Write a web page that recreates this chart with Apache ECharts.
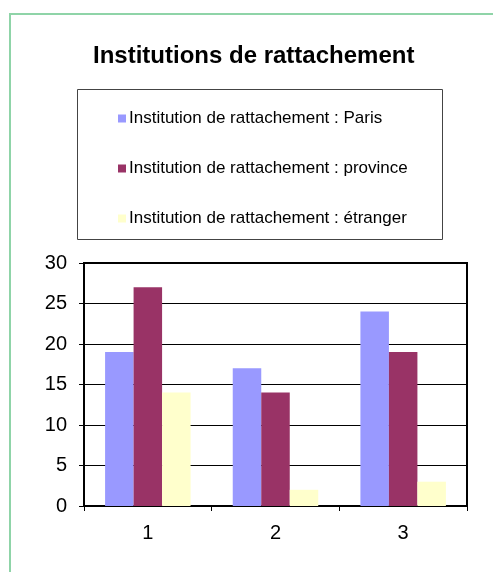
<!DOCTYPE html>
<html lang="fr">
<head>
    <meta charset="UTF-8">
    <title>Institutions de rattachement</title>
    <style>
        html, body { margin: 0; padding: 0; background: #fff; }
        .chart { width: 493px; height: 572px; }
    </style>
    <script src="https://cdn.jsdelivr.net/npm/echarts@6/dist/echarts.min.js"></script>
</head>
<body>
    <div class="chart"></div>
    <script>
        // données
        var categories = ['1', '2', '3'];
        var seriesNames = [
            'Institution de rattachement : Paris',
            'Institution de rattachement : province',
            'Institution de rattachement : étranger'
        ];
        var paris = [19, 17, 24];
        var province = [27, 14, 19];
        var etranger = [14, 2, 3];
        var colors = ['#9999FF', '#993366', '#FFFFCC'];

        var font = 'Liberation Sans, Arial, sans-serif';

        var option = {
            animation: false,
            color: colors,
            textStyle: { fontFamily: font },
            title: {
                text: 'Institutions de rattachement',
                left: 93,
                top: 44,
                padding: 0,
                textStyle: { fontSize: 24, fontWeight: 'bold', color: '#000', fontFamily: font }
            },
            // cadre vert + cadre de la légende
            graphic: [
                {
                    type: 'rect',
                    shape: { x: 10, y: 14, width: 600, height: 700 },
                    style: { fill: 'none', stroke: '#8FD4A8', lineWidth: 2 },
                    z: -1
                },
                {
                    type: 'rect',
                    shape: { x: 77.5, y: 89.5, width: 365, height: 150 },
                    style: { fill: 'none', stroke: '#444', lineWidth: 1 }
                }
            ],
            legend: {
                orient: 'vertical',
                left: 113,
                top: 105,
                itemWidth: 8,
                itemHeight: 8,
                itemGap: 33,
                icon: 'rect',
                textStyle: { fontSize: 17, color: '#000', fontFamily: font, padding: [0, 0, 0, -2] },
                data: seriesNames
            },
            grid: {
                left: 84,
                right: 26,
                top: 263,
                bottom: 66,
                show: true,
                borderColor: '#000',
                borderWidth: 2,
                containLabel: false
            },
            xAxis: {
                type: 'category',
                data: categories,
                axisLine: { lineStyle: { color: '#000', width: 2 } },
                axisTick: { show: true, inside: false, length: 5, lineStyle: { color: '#000' } },
                axisLabel: { color: '#000', fontSize: 20, margin: 17, fontFamily: font }
            },
            yAxis: {
                type: 'value',
                min: 0,
                max: 30,
                interval: 5,
                axisLine: { show: true, lineStyle: { color: '#000', width: 2 } },
                axisTick: { show: true, inside: false, length: 5, lineStyle: { color: '#000' } },
                axisLabel: { color: '#000', fontSize: 20, margin: 17, fontFamily: font },
                splitLine: { show: true, lineStyle: { color: '#000', width: 1 } }
            },
            series: [
                { name: seriesNames[0], type: 'bar', data: paris, barWidth: 28.5, barGap: '0%' },
                { name: seriesNames[1], type: 'bar', data: province, barWidth: 28.5, barGap: '0%' },
                { name: seriesNames[2], type: 'bar', data: etranger, barWidth: 28.5, barGap: '0%' }
            ]
        };

        var chart = echarts.init(document.querySelector('.chart'));
        chart.setOption(option);
    </script>
</body>
</html>
